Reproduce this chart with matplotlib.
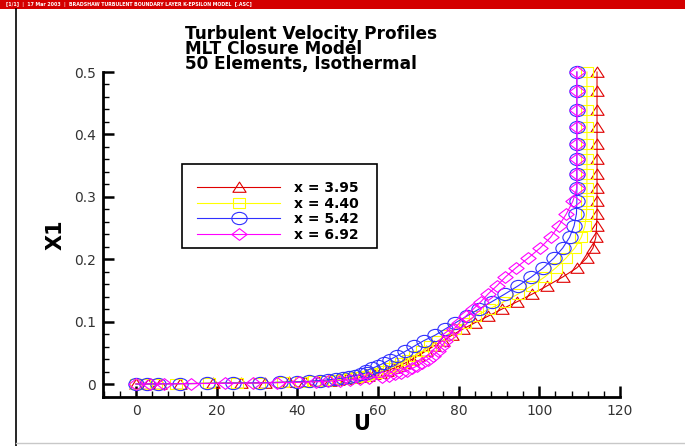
import numpy as np
import matplotlib
matplotlib.use("Agg")
import matplotlib.pyplot as plt
from matplotlib.path import Path
from matplotlib.transforms import Affine2D
from matplotlib.ticker import MultipleLocator
from matplotlib.lines import Line2D

# ---------------- data ----------------
X1 = [0.0, 0.00015, 0.0003, 0.0006, 0.0011, 0.0016, 0.0021, 0.0028, 0.0036, 0.0044,
      0.0055, 0.0066, 0.0080, 0.0095, 0.0113, 0.0133, 0.0156, 0.0183, 0.0214, 0.0250,
      0.0291, 0.0338, 0.0392, 0.0454, 0.0525, 0.0607, 0.0693, 0.0784, 0.0880, 0.0981,
      0.1088, 0.1200, 0.1319, 0.1444, 0.1576, 0.1715, 0.1862, 0.2017, 0.2180, 0.2352,
      0.2534, 0.2726, 0.2928, 0.3141, 0.3366, 0.3603, 0.3853, 0.4117, 0.4396, 0.4690,
      0.5000]

U_395 = [0, 3, 6, 11, 19, 26, 32, 38, 42, 45,
         48, 50, 52, 54, 55.8, 57.5, 59, 60.6, 62.2, 63.8,
         65.3, 66.8, 68.3, 70, 71.8, 73.8, 76, 78.4, 81, 84,
         87.3, 90.7, 94.5, 98.3, 102, 105.8, 109.3, 111.7, 113.3, 114,
         114.2, 114.3, 114.3, 114.3, 114.3, 114.3, 114.3, 114.3, 114.3, 114.3,
         114.3]

U_440 = [0, 2.5, 5, 10, 18, 25, 30.5, 36.5, 41, 44,
         47, 49, 51.2, 53, 54.8, 56.4, 58, 59.6, 61.2, 62.8,
         64.3, 65.8, 67.4, 69.1, 71, 73, 74.8, 77, 79.2, 81.5,
         84, 87.5, 91.2, 94.8, 98.2, 101.3, 104.1, 106.6, 108.8, 110.4,
         111.3, 111.7, 111.8, 111.8, 111.8, 111.8, 111.8, 111.8, 111.8, 111.8,
         111.8]

U_542 = [0, 2.7, 5.5, 11, 17.5, 24, 30.8, 35.7, 39.9, 43,
         45.5, 47.5, 49.5, 51.2, 52.8, 54.3, 55.8, 57.2, 57, 58.5,
         60, 61.5, 63, 64.8, 66.8, 69, 71.3, 74.2, 76.6, 79.2,
         82, 85, 88.2, 91.5, 94.8, 98, 101, 103.6, 105.8, 107.5,
         108.6, 109.2, 109.3, 109.3, 109.3, 109.3, 109.3, 109.3, 109.3, 109.3,
         109.3]

U_692 = [0, 3.5, 7, 13.5, 22, 29, 35, 40.5, 44.5, 47.5,
         50.5, 53, 55.5, 57.7, 61, 62.7, 64.3, 65.8, 67.2, 68.5,
         69.7, 70.9, 72.3, 73.6, 74.8, 75.8, 76.7, 77.7, 78.8, 80.2,
         81.8, 83.6, 85.5, 87.3, 89.5, 91.6, 94.2, 97.2, 100.2, 102.8,
         104.8, 106.7, 108.3, 109.3, 109.3, 109.3, 109.3, 109.3, 109.3, 109.3,
         109.3]

labels = ["x = 3.95", "x = 4.40", "x = 5.42", "x = 6.92"]
series = [U_395, U_440, U_542, U_692]
colors = ["#E00000", "#FFFF00", "#3030FF", "#FF00FF"]

x_ticks = [0, 20, 40, 60, 80, 100, 120]
y_ticks = [0, 0.1, 0.2, 0.3, 0.4, 0.5]
y_ticklabels = ["0", "0.1", "0.2", "0.3", "0.4", "0.5"]

title_lines = ["Turbulent Velocity Profiles", "MLT Closure Model", "50 Elements, Isothermal"]
header = "[1/1]  |  17 Mar 2003  |  BRADSHAW TURBULENT BOUNDARY LAYER K-EPSILON MODEL  [.ASC]"

# ---------------- markers ----------------
circ = Path.unit_circle()
ellipse = circ.transformed(Affine2D().scale(1.25, 1.0))
diamond = Path([(-1.3, 0), (0, 1), (1.3, 0), (0, -1), (-1.3, 0)],
               [Path.MOVETO, Path.LINETO, Path.LINETO, Path.LINETO, Path.CLOSEPOLY])
tri = Path([(-1.1, -0.8), (0, 0.9), (1.1, -0.8), (-1.1, -0.8)],
           [Path.MOVETO, Path.LINETO, Path.LINETO, Path.CLOSEPOLY])
square = Path([(-1.2, -1), (1.2, -1), (1.2, 1), (-1.2, 1), (-1.2, -1)],
              [Path.MOVETO, Path.LINETO, Path.LINETO, Path.LINETO, Path.CLOSEPOLY])
markers = [tri, square, ellipse, diamond]
msizes = [9.5, 8.5, 11, 11]

W, H = 685, 446

# ---------------- figure ----------------
fig = plt.figure(figsize=(W / 100, H / 100), dpi=100)
fig.patch.set_facecolor("white")

# header bar and frame
fig.patches.append(plt.Rectangle((0, 1 - 9 / H), 1, 9 / H, transform=fig.transFigure,
                                 facecolor="#D40000", edgecolor="none", zorder=0))
fig.text(6 / W, 1 - 4.5 / H, header, color="white", fontsize=3.4, fontweight="bold",
         va="center", ha="left")
fig.lines.append(Line2D([16 / W, 16 / W], [0, 1 - 9 / H], transform=fig.transFigure,
                        color="black", lw=1.2))
fig.lines.append(Line2D([16 / W, 1], [3 / H, 3 / H], transform=fig.transFigure,
                        color="#C8C8C8", lw=1.0))

ax = fig.add_axes([103 / W, (H - 397) / H, (620 - 103) / W, (397 - 72) / H])
ax.set_facecolor("none")

handles = []
for U, c, m, ms, lab in zip(series, colors, markers, msizes, labels):
    h, = ax.plot(U, X1, color=c, lw=0.8, marker=m, markersize=ms, markerfacecolor="none",
                 markeredgecolor=c, markeredgewidth=0.8, label=lab, clip_on=False)
    handles.append(h)

ax.set_xlim(-8.2, 120)
ax.set_ylim(-0.0208, 0.5)
ax.set_xticks(x_ticks)
ax.set_yticks(y_ticks)
ax.set_yticklabels(y_ticklabels)
ax.xaxis.set_minor_locator(MultipleLocator(4))
ax.yaxis.set_minor_locator(MultipleLocator(0.02))
ax.tick_params(which="major", direction="in", length=8, width=1.8, labelsize=10,
               labelcolor="#333333", pad=5)
ax.tick_params(which="minor", direction="in", length=4, width=1.0)
ax.tick_params(axis="x", which="both", top=False)
ax.tick_params(axis="y", which="both", right=False)
for s in ["top", "right"]:
    ax.spines[s].set_visible(False)
for s in ["left", "bottom"]:
    ax.spines[s].set_linewidth(2.0)

ax.set_xlabel("U", fontsize=15, fontweight="bold", labelpad=-3)
ax.set_ylabel("X1", fontsize=15, fontweight="bold", labelpad=6)

# title block (one multi-line text)
fig.text(185 / W, 1 - 25 / H, "\n".join(title_lines), fontsize=12.2, fontweight="bold",
         ha="left", va="top", color="black", linespacing=0.78)

# legend box drawn manually
box = plt.Rectangle((182 / W, 1 - 248 / H), (377 - 182) / W, (248 - 164) / H,
                    transform=fig.transFigure, facecolor="white",
                    edgecolor="black", lw=1.2, zorder=4, clip_on=False)
ax.add_patch(box)
leg = ax.legend(handles=handles, loc="upper left",
                bbox_to_anchor=(197 / W, 1 - 181 / H), bbox_transform=fig.transFigure,
                frameon=False, prop={"weight": "bold", "size": 10},
                handlelength=6.0, handletextpad=0.95, borderpad=0, labelspacing=0.12,
                borderaxespad=0)
leg.set_zorder(6)

fig.savefig("out.png", dpi=100, facecolor="white")
